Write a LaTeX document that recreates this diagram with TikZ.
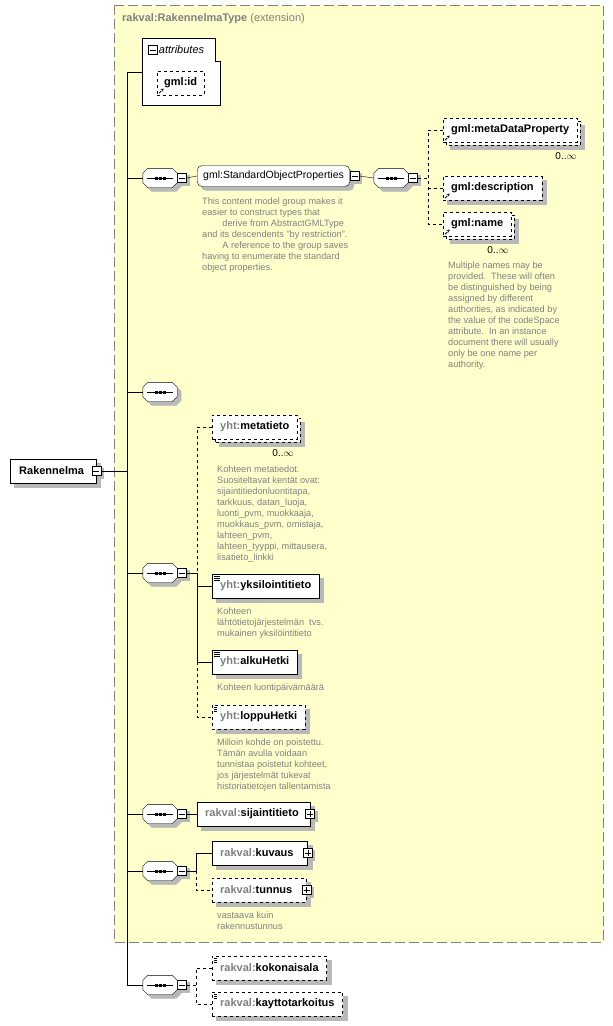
\documentclass[tikz,border=0pt]{standalone}
\usepackage{fontspec}
\setmainfont{Liberation Sans}
\usetikzlibrary{positioning,calc,arrows.meta}

\definecolor{extfill}{RGB}{255,255,204}
\definecolor{extline}{RGB}{128,128,128}
\definecolor{dropgray}{RGB}{185,185,185}
\definecolor{notegray}{RGB}{128,128,128}

\pgfdeclarelayer{ext}
\pgfdeclarelayer{shadows}
\pgfsetlayers{ext,shadows,main}

\tikzset{
  elem/.style={draw, fill=white, anchor=west, minimum height=24pt, inner xsep=8pt,
    font=\bfseries\fontsize{11}{13}\selectfont},
  optelem/.style={elem, dashed},
  haschildren/.style={execute at end node={\hspace{#1}}},
  haschildren/.default=6pt,
  gmlref/.style={path picture={
    \draw[line width=0.9pt, -{Stealth[length=3pt,width=3pt]}]
      ([xshift=2pt,yshift=2pt]path picture bounding box.south west) -- ++(4.5pt,4.5pt);}},
  simpletype/.style={path picture={
    \foreach \k in {2,4,6}
      \draw[line width=0.6pt] ([xshift=2pt,yshift=-\k pt]path picture bounding box.north west) -- ++(6pt,0);}},
  group/.style={draw, fill=white, rounded corners=5pt, anchor=west, minimum height=21pt,
    inner xsep=6pt, font=\fontsize{10.5}{12}\selectfont},
  seq/.style={minimum width=34pt, minimum height=19pt, inner sep=0pt},
  toggle/.style={draw, fill=white, minimum size=9pt, inner sep=0pt},
  minusbox/.style={toggle, path picture={
    \draw ([xshift=1.5pt]path picture bounding box.west) -- ([xshift=-1.5pt]path picture bounding box.east);}},
  plusbox/.style={toggle, path picture={
    \draw ([xshift=1.5pt]path picture bounding box.west) -- ([xshift=-1.5pt]path picture bounding box.east);
    \draw ([yshift=-1.5pt]path picture bounding box.north) -- ([yshift=1.5pt]path picture bounding box.south);}},
  note/.style={anchor=north west, align=left, inner sep=0pt, text=notegray,
    font=\fontsize{9.2}{11}\selectfont},
  occurs/.style={inner sep=0pt, font=\fontsize{10}{12}\selectfont},
  offset/.style={transform canvas={shift={(#1pt,-#1pt)}}},
  dropfill/.style={draw=dropgray, fill=dropgray, line width=0.1pt},
}
\newcommand{\pfx}[1]{\textcolor{notegray}{#1}}
% octagon outline of a sequence compositor
\newcommand{\octagon}[1]{([xshift=5pt]#1.north west) -- ([xshift=-5pt]#1.north east)
  -- ([yshift=-5pt]#1.north east) -- ([yshift=5pt]#1.south east) -- ([xshift=-5pt]#1.south east)
  -- ([xshift=5pt]#1.south west) -- ([yshift=5pt]#1.south west) -- ([yshift=-5pt]#1.north west) -- cycle}

\begin{document}
\begin{tikzpicture}[x=1pt, y=-1pt]
  \useasboundingbox (0,0) rectangle (613,1026);

  % Extension area
  \begin{pgfonlayer}{ext}
    \draw[extline, line width=1pt, dash pattern=on 10pt off 4pt, fill=extfill] (114,5) rectangle (603,942);
  \end{pgfonlayer}
  \node[anchor=west, inner sep=0pt, text=notegray, font=\fontsize{11}{13}\selectfont] (exttitle) at (122,19)
    {\textbf{rakval:RakennelmaType} (extension)};

  % Trunk
  \coordinate (trunk) at (127,0);
  \coordinate (attr) at (142,72);

  % Root element
  \node[elem, inner xsep=9pt, execute at end node={\hspace{3pt}}] (rak) at (10,471) {Rakennelma};
  \node[minusbox] (rakm) at (rak.east) {};

  % Attributes
  \draw[fill=white] (142,38) -- (215,38) -- (215,61) -- (220,61) -- (220,105) -- (142,105) -- cycle;
  \node[minusbox] (attrm) at (153,50) {};
  \node[anchor=west, inner sep=1pt, font=\itshape\fontsize{11}{13}\selectfont] (attrlabel) at (attrm.east) {attributes};
  \node[optelem, gmlref, inner xsep=7pt] (gmlid) at (157,83) {gml:id};

  % Standard object properties
  \node[seq] (seq1) at (160,178) {};
  \node[minusbox, right=0pt of seq1] (seq1m) {};
  \node[group] (sop) at (197,176) {gml:StandardObjectProperties};
  \node[minusbox, anchor=west] (sopm) at (sop.east) {};
  \node[note] (sopnote) at (202,198) {This content model group makes it\\easier to construct types that\\
    \hspace*{2.2em}derive from AbstractGMLType\\and its descendents "by restriction".\\
    \hspace*{2.2em}A reference to the group saves\\having to enumerate the standard\\object properties.};
  \node[seq] (seq2) at (391,178) {};
  \node[minusbox, right=0pt of seq2] (seq2m) {};
  \coordinate (br2) at (428,0);
  \node[optelem, gmlref] (mdp) at (443,130) {gml:metaDataProperty};
  \node[occurs] (mdpocc) at (566,156) {0..$\infty$};
  \node[optelem, gmlref] (gmldesc) at (443,188) {gml:description};
  \node[optelem, gmlref] (gmlname) at (443,224) {gml:name};
  \node[occurs] (nameocc) at (498,250) {0..$\infty$};
  \node[note] (namenote) at (448,262) {Multiple names may be\\provided.\ \ These will often\\
    be distinguished by being\\assigned by different\\authorities, as indicated by\\
    the value of the codeSpace\\attribute.\ \ In an instance\\document there will usually\\
    only be one name per\\authority.};

  % Empty sequence
  \node[seq] (seq3) at (160,392) {};

  % yht elements
  \node[seq] (seq4) at (160,573) {};
  \node[minusbox, right=0pt of seq4] (seq4m) {};
  \coordinate (br4) at (197,0);
  \node[optelem] (meta) at (212,427) {\pfx{yht:}metatieto};
  \node[occurs] (metaocc) at (283,453) {0..$\infty$};
  \node[note] (metanote) at (217,466) {Kohteen metatiedot.\\Suositeltavat kentät ovat:\\
    sijaintitiedonluontitapa,\\tarkkuus, datan\_luoja,\\luonti\_pvm, muokkaaja,\\
    muokkaus\_pvm, omistaja,\\lahteen\_pvm,\\lahteen\_tyyppi, mittausera,\\lisatieto\_linkki};
  \node[elem, simpletype] (yks) at (212,586) {\pfx{yht:}yksilointitieto};
  \node[note] (yksnote) at (217,608) {Kohteen\\lähtötietojärjestelmän\ \ tvs.\\mukainen yksilöintitieto};
  \node[elem, simpletype] (alku) at (212,662) {\pfx{yht:}alkuHetki};
  \node[note] (alkunote) at (217,684) {Kohteen luontipäivämäärä};
  \node[optelem, simpletype] (loppu) at (212,717) {\pfx{yht:}loppuHetki};
  \node[note] (loppunote) at (217,739) {Milloin kohde on poistettu.\\Tämän avulla voidaan\\
    tunnistaa poistetut kohteet,\\jos järjestelmät tukevat\\historiatietojen tallentamista};

  % rakval elements
  \node[seq] (seq5) at (160,814) {};
  \node[minusbox, right=0pt of seq5] (seq5m) {};
  \node[elem, haschildren=3pt] (sijainti) at (197,814) {\pfx{rakval:}sijaintitieto};
  \node[plusbox] (sijaintip) at (sijainti.east) {};
  \node[seq] (seq6) at (160,871) {};
  \node[minusbox, right=0pt of seq6] (seq6m) {};
  \coordinate (br6) at (196,0);
  \node[elem, haschildren] (kuvaus) at (212,853) {\pfx{rakval:}kuvaus};
  \node[plusbox] (kuvausp) at (kuvaus.east) {};
  \node[optelem, haschildren] (tunnus) at (212,890) {\pfx{rakval:}tunnus};
  \node[plusbox] (tunnusp) at (tunnus.east) {};
  \node[note] (tunnusnote) at (217,912) {vastaava kuin\\rakennustunnus};

  % Outside extension
  \node[seq] (seq7) at (160,985) {};
  \node[minusbox, right=0pt of seq7] (seq7m) {};
  \coordinate (br7) at (196,0);
  \node[optelem, simpletype] (koko) at (212,968) {\pfx{rakval:}kokonaisala};
  \node[optelem, simpletype] (kaytto) at (212,1004) {\pfx{rakval:}kayttotarkoitus};

  % Sequence compositors
  \foreach \s in {seq1,seq2,seq3,seq4,seq5,seq6,seq7} {
    \draw[fill=white] \octagon{\s};
    \draw[line width=0.9pt] ([xshift=4pt]\s.west) -- ([xshift=-4pt]\s.east);
    \foreach \d in {-4,0,4}
      \filldraw[line width=0.2pt] ([xshift=\d pt]\s.center) +(-1.3pt,-1.3pt) rectangle +(1.3pt,1.3pt);
  }

  % Shadows and repeated copies
  \begin{pgfonlayer}{shadows}
    \foreach \n in {rak,gmlid,gmldesc,yks,alku,loppu,sijainti,kuvaus,tunnus,koko,kaytto}
      \draw[dropfill, offset=4] (\n.south west) rectangle (\n.north east);
    \foreach \n in {rakm,attrm,seq1m,sopm,seq2m,seq4m,seq5m,seq6m,seq7m,sijaintip,kuvausp,tunnusp}
      \draw[dropfill, offset=2] (\n.south west) rectangle (\n.north east);
    \draw[dropfill, rounded corners=5pt, offset=4] (sop.south west) rectangle (sop.north east);
    \foreach \s in {seq1,seq2,seq3,seq4,seq5,seq6,seq7}
      \draw[dropfill, offset=4] \octagon{\s};
    \foreach \n in {mdp,gmlname,meta} {
      \draw[dropfill, offset=7] (\n.south west) rectangle (\n.north east);
      \draw[dashed, fill=white, offset=3] (\n.south west) rectangle (\n.north east);
    }
  \end{pgfonlayer}

  % Connectors
  \draw (attr -| trunk) -- (seq7.west -| trunk);
  \draw (rakm.east) -- (rakm.east -| trunk);
  \draw (attr -| trunk) -- (attr);
  \foreach \s in {seq1,seq3,seq4,seq5,seq6,seq7}
    \draw (\s.west -| trunk) -- (\s.west);
  \draw (seq1m.east) -- (sop.west);
  \draw (sopm.east) -- (seq2.west);
  \draw[dashed] (seq2m.east) -- (seq2m.east -| br2);
  \draw[dashed] (mdp.west) -| (br2 |- gmlname.west) -- (gmlname.west);
  \draw[dashed] (gmldesc.west -| br2) -- (gmldesc.west);
  \draw[dashed] (meta.west) -| (seq4m.east -| br4);
  \draw (seq4m.east) -- (seq4m.east -| br4) |- (alku.west);
  \draw (yks.west -| br4) -- (yks.west);
  \draw[dashed] (alku.west -| br4) |- (loppu.west);
  \draw (seq5m.east) -- (sijainti.west);
  \draw (seq6m.east) -- (seq6m.east -| br6) |- (kuvaus.west);
  \draw[dashed] (seq6m.east -| br6) |- (tunnus.west);
  \draw[dashed] (seq7m.east) -- (seq7m.east -| br7);
  \draw[dashed] (koko.west) -| (br7 |- kaytto.west) -- (kaytto.west);
\end{tikzpicture}
\end{document}
